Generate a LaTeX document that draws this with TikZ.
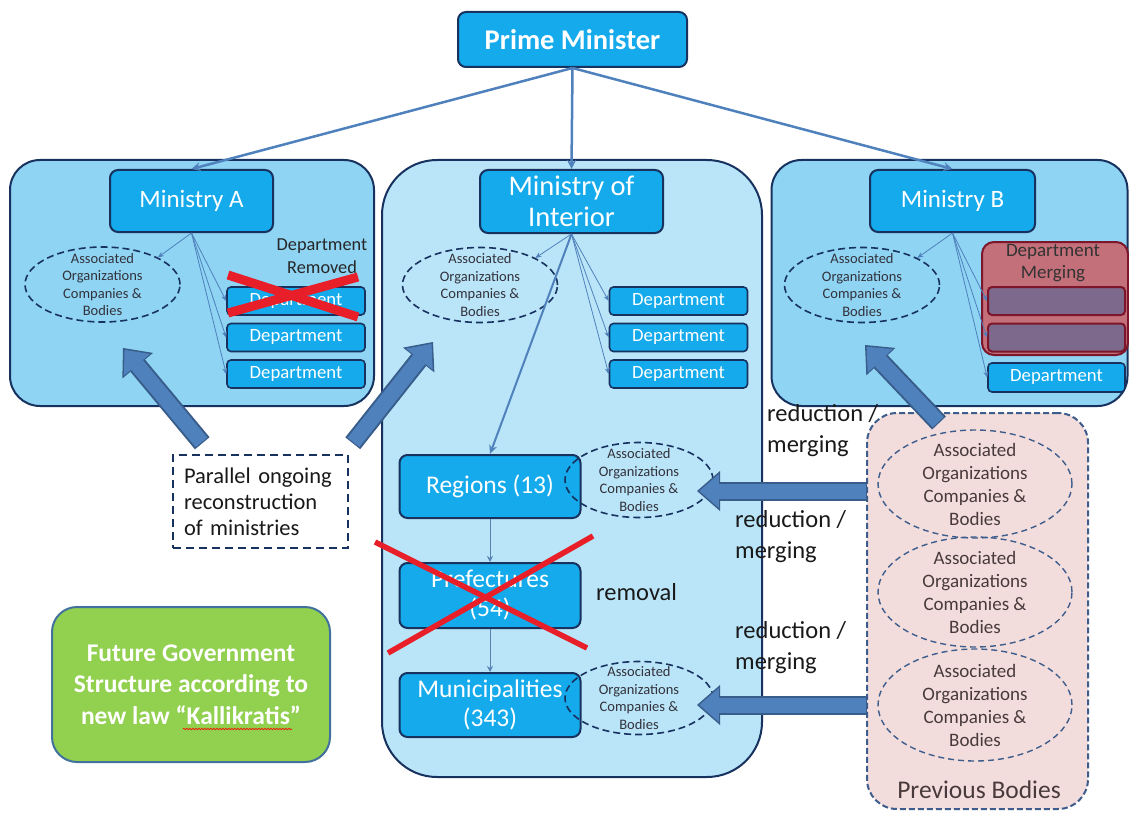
\documentclass[tikz,border=0pt]{standalone}
\usepackage{fontspec}
\setmainfont{Carlito}
\usetikzlibrary{shapes.geometric,arrows.meta,decorations.pathmorphing,calc}
\definecolor{cyanbox}{RGB}{20,170,235}
\definecolor{navy}{RGB}{24,50,96}
\definecolor{sidepanel}{RGB}{143,212,243}
\definecolor{midpanel}{RGB}{186,229,248}
\definecolor{steel}{RGB}{79,129,189}
\definecolor{steeldark}{RGB}{56,93,138}
\definecolor{mergefill}{RGB}{196,112,122}
\definecolor{mergedraw}{RGB}{125,22,42}
\definecolor{innerfill}{RGB}{125,105,140}
\definecolor{prevfill}{RGB}{242,221,220}
\definecolor{prevdraw}{RGB}{62,92,140}
\definecolor{greenbox}{RGB}{146,208,80}
\definecolor{greendraw}{RGB}{65,113,156}
\definecolor{assoctext}{RGB}{50,50,60}
\definecolor{prevtext}{RGB}{72,58,60}
\definecolor{redx}{RGB}{232,30,40}
\tikzset{
  panel/.style={draw=navy, line width=2pt, rounded corners=30pt, inner sep=0pt},
  prevpanel/.style={draw=prevdraw, fill=prevfill, line width=2pt, dash pattern=on 6pt off 3pt, rounded corners=30pt, inner sep=0pt},
  bluebox/.style={draw=navy, line width=2pt, fill=cyanbox, rounded corners=8pt, text=white, align=center, inner sep=0pt},
  dept/.style={draw=navy, line width=1.6pt, fill=cyanbox, rounded corners=4pt, text=white, minimum width=138pt, minimum height=28pt, inner sep=0pt, font=\fontsize{18.7}{21}\selectfont},
  innerbox/.style={draw=mergedraw, line width=2pt, fill=innerfill, rounded corners=4pt, minimum width=137pt, minimum height=28pt, inner sep=0pt},
  assoc/.style={ellipse, draw=navy, dash pattern=on 7pt off 4pt, line width=1.6pt, inner sep=0pt},
  assoclbl/.style={text=assoctext, align=center, inner sep=0pt, font=\fontsize{14.5}{17.5}\selectfont},
  prevell/.style={ellipse, draw=prevdraw, dash pattern=on 6pt off 4pt, line width=1.4pt, inner sep=0pt, minimum width=194pt},
  prevlbl/.style={text=prevtext, align=center, inner sep=0pt, font=\fontsize{19}{23}\selectfont},
  thin/.style={draw=steel, line width=0.8pt, -{Stealth[length=6pt,width=5pt]}},
  toparrow/.style={draw=steel, line width=2.5pt, -{Stealth[length=9pt,width=9pt]}},
  chain/.style={draw=steel!80!gray, line width=1pt, -{Stealth[length=6pt,width=6pt]}},
  blockout/.style={draw=steeldark, line width=19pt, -{Triangle[length=23pt,width=40pt,line width=0pt]}},
  blockin/.style={draw=steel, line width=15pt, shorten >=2.4pt, shorten <=1.2pt, -{Triangle[length=19.5pt,width=34pt,line width=0pt]}},
  lbl/.style={text=black!90, align=left, inner sep=0pt, font=\fontsize{24.5}{31}\selectfont},
}
\begin{document}
\begin{tikzpicture}[x=1pt,y=-1pt]
\useasboundingbox[fill=white] (0,0) rectangle (1129,813);

% panels
\node[panel, fill=sidepanel, minimum width=364pt, minimum height=246pt] (panA) at (192,283) {};
\node[panel, fill=midpanel, rounded corners=55pt, minimum width=380pt, minimum height=617pt] (panI) at (572,468.5) {};
\node[panel, fill=sidepanel, minimum width=356pt, minimum height=246pt] (panB) at (949.5,283) {};
\node[prevpanel, minimum width=221pt, minimum height=396pt] (prev) at (977.5,611) {};

% top box
\node[bluebox, minimum width=229pt, minimum height=55pt, font=\fontsize{28.5}{30}\selectfont\bfseries] (pm) at (572.5,39.5) {Prime Minister};

% ministries
\node[bluebox, minimum width=163pt, minimum height=62pt, font=\fontsize{25}{28}\selectfont] (minA) at (191.5,201) {Ministry A};
\node[bluebox, minimum width=183pt, minimum height=63pt, font=\fontsize{28.5}{31}\selectfont] (minI) at (571.5,201.5) {Ministry of\\Interior};
\node[bluebox, minimum width=165pt, minimum height=62pt, font=\fontsize{25}{28}\selectfont] (minB) at (952.5,201) {Ministry B};

% Ministry A departments
\node[text=black!85, align=center, inner sep=0pt, font=\fontsize{18.3}{23}\selectfont] (remtxt) at (322,256.5) {Department\\Removed};
\node[dept] (dA1) at (296,301) {Department};
\node[dept] (dA2) at (296,337.5) {Department};
\node[dept] (dA3) at (296,374) {Department};
\draw[redx, line width=9pt] (228,275) -- (358,317);
\draw[redx, line width=9pt] (228,313) -- (358,277);

% Ministry of Interior departments
\node[dept] (dI1) at (678.5,301) {Department};
\node[dept] (dI2) at (678.5,337.5) {Department};
\node[dept] (dI3) at (678.5,374) {Department};

% Ministry B merging
\node[draw=mergedraw, line width=2pt, fill=mergefill, rounded corners=12pt, minimum width=146pt, minimum height=113pt, inner sep=0pt] (merge) at (1055,298.5) {};
\node[text=black!80, align=center, inner sep=0pt, font=\fontsize{19}{22}\selectfont] (mergetxt) at (1053,263) {Department\\Merging};
\node[innerbox] (mg1) at (1056.5,301) {};
\node[innerbox] (mg2) at (1056.5,337.5) {};
\node[dept, minimum width=137pt, minimum height=29pt] (dB3) at (1056.5,377.5) {Department};

% associated ellipses in ministries
\node[assoc, minimum width=155pt, minimum height=75pt, label={[assoclbl]center:{Associated\\Organizations\\Companies \&\\Bodies}}] (eA) at (102.5,284.5) {};
\node[assoc, minimum width=155pt, minimum height=75pt, label={[assoclbl]center:{Associated\\Organizations\\Companies \&\\Bodies}}] (eI) at (480,285) {};
\node[assoc, minimum width=155pt, minimum height=75pt, label={[assoclbl]center:{Associated\\Organizations\\Companies \&\\Bodies}}] (eB) at (862,285) {};

% regions, prefectures, municipalities
\node[bluebox, minimum width=181pt, minimum height=63pt, font=\fontsize{25.5}{28}\selectfont] (reg) at (490,486.5) {Regions (13)};
\node[bluebox, minimum width=181pt, minimum height=65pt, font=\fontsize{25.5}{29}\selectfont] (pref) at (490,595.5) {Prefectures\\(54)};
\node[bluebox, minimum width=181pt, minimum height=64pt, font=\fontsize{25.5}{29}\selectfont] (mun) at (490,705) {Municipalities\\(343)};
\node[assoc, minimum width=148pt, minimum height=75pt, label={[assoclbl]center:{Associated\\Organizations\\Companies \&\\Bodies}}] (eR) at (639,480) {};
\node[assoc, minimum width=148pt, minimum height=73pt, label={[assoclbl]center:{Associated\\Organizations\\Companies \&\\Bodies}}] (eM) at (639,698) {};
\draw[redx, line width=5.5pt] (375,542) -- (587,648);
\draw[redx, line width=5.5pt] (388,653) -- (593,536);
\node[lbl, anchor=west] (removal) at (596,592) {removal};

% previous bodies
\node[prevell, minimum height=108pt, label={[prevlbl]center:{Associated\\Organizations\\Companies \&\\Bodies}}] (pe1) at (975,484) {};
\node[prevell, minimum height=110pt, label={[prevlbl]center:{Associated\\Organizations\\Companies \&\\Bodies}}] (pe2) at (975,592) {};
\node[prevell, minimum height=112pt, label={[prevlbl]center:{Associated\\Organizations\\Companies \&\\Bodies}}] (pe3) at (975,705) {};
\node[text=prevtext, inner sep=0pt, font=\fontsize{25.5}{28}\selectfont] (prevtxt) at (979,790) {Previous Bodies};

% labels
\node[lbl, anchor=west] (rm1) at (767,431) {reduction /\\merging};
\node[lbl, anchor=west] (rm2) at (735,537) {reduction /\\merging};
\node[lbl, anchor=west] (rm3) at (735,648) {reduction /\\merging};

% parallel box
\node[draw=navy, line width=1.5pt, dash pattern=on 8pt off 5pt, fill=white, minimum width=175pt, minimum height=93pt, text width=153pt, inner xsep=11pt, inner ysep=0pt, align=left, text=black!90, font=\fontsize{22.5}{26}\selectfont] (par) at (260.5,501.5) {Parallel ongoing\\reconstruction\\of ministries};

% future box
\node[draw=greendraw, line width=2pt, fill=greenbox, rounded corners=25pt, minimum width=278pt, minimum height=155pt, inner sep=0pt, align=center, text=white, font=\fontsize{25.5}{31.5}\selectfont\bfseries] (fut) at (191,684.5) {Future Government\\Structure according to\\new law \char"201C Kallikratis\char"201D};
\draw[red, line width=0.6pt, decorate, decoration={snake, amplitude=0.8pt, segment length=3pt}] (183,729) -- (292,729);

% connectors: top
\draw[toparrow] (pm.south) -- (minA.north);
\draw[toparrow] (pm.south) -- (minI.north);
\draw[toparrow] (pm.south) -- (minB.north);

% thin connectors in ministries
\draw[thin] (minA.south) -- (eA.north east);
\draw[thin] (minA.south) -- (dA1.west);
\draw[thin] (minA.south) -- (dA2.west);
\draw[thin] (minA.south) -- (dA3.west);
\draw[thin] (minI.south) -- (eI.north east);
\draw[thin] (minI.south) -- (dI1.west);
\draw[thin] (minI.south) -- (dI2.west);
\draw[thin] (minI.south) -- (dI3.west);
\draw[steel, line width=2pt, -{Stealth[length=9pt,width=8pt]}] (minI.south) -- (reg.north);
\draw[thin] (minB.south) -- (eB.north east);
\draw[thin] (minB.south) -- (mg1.west);
\draw[thin] (minB.south) -- (mg2.west);
\draw[thin] (minB.south) -- (dB3.west);
\draw[chain] (reg.south) -- (pref.north);
\draw[chain] (pref.south) -- (mun.north);

% block arrows
\coordinate (tA) at (123,348);
\coordinate (tI) at (433,342);
\coordinate (tB) at (865,345);
\coordinate (tR) at (697,491);
\coordinate (tM) at (697,705);
\coordinate (sB) at (939,423);
\coordinate (sR) at (867,491);
\coordinate (sM) at (867,705);
\draw[blockout] (par.north west) ++(30,-11) -- (tA);
\draw[blockin]  (par.north west) ++(30,-11) -- (tA);
\draw[blockout] (par.north east) ++(4,-11) -- (tI);
\draw[blockin]  (par.north east) ++(4,-11) -- (tI);
\draw[blockout] (sB) -- (tB);
\draw[blockin]  (sB) -- (tB);
\draw[blockout] (sR) -- (tR);
\draw[blockin]  (sR) -- (tR);
\draw[blockout] (sM) -- (tM);
\draw[blockin]  (sM) -- (tM);
\end{tikzpicture}
\end{document}
